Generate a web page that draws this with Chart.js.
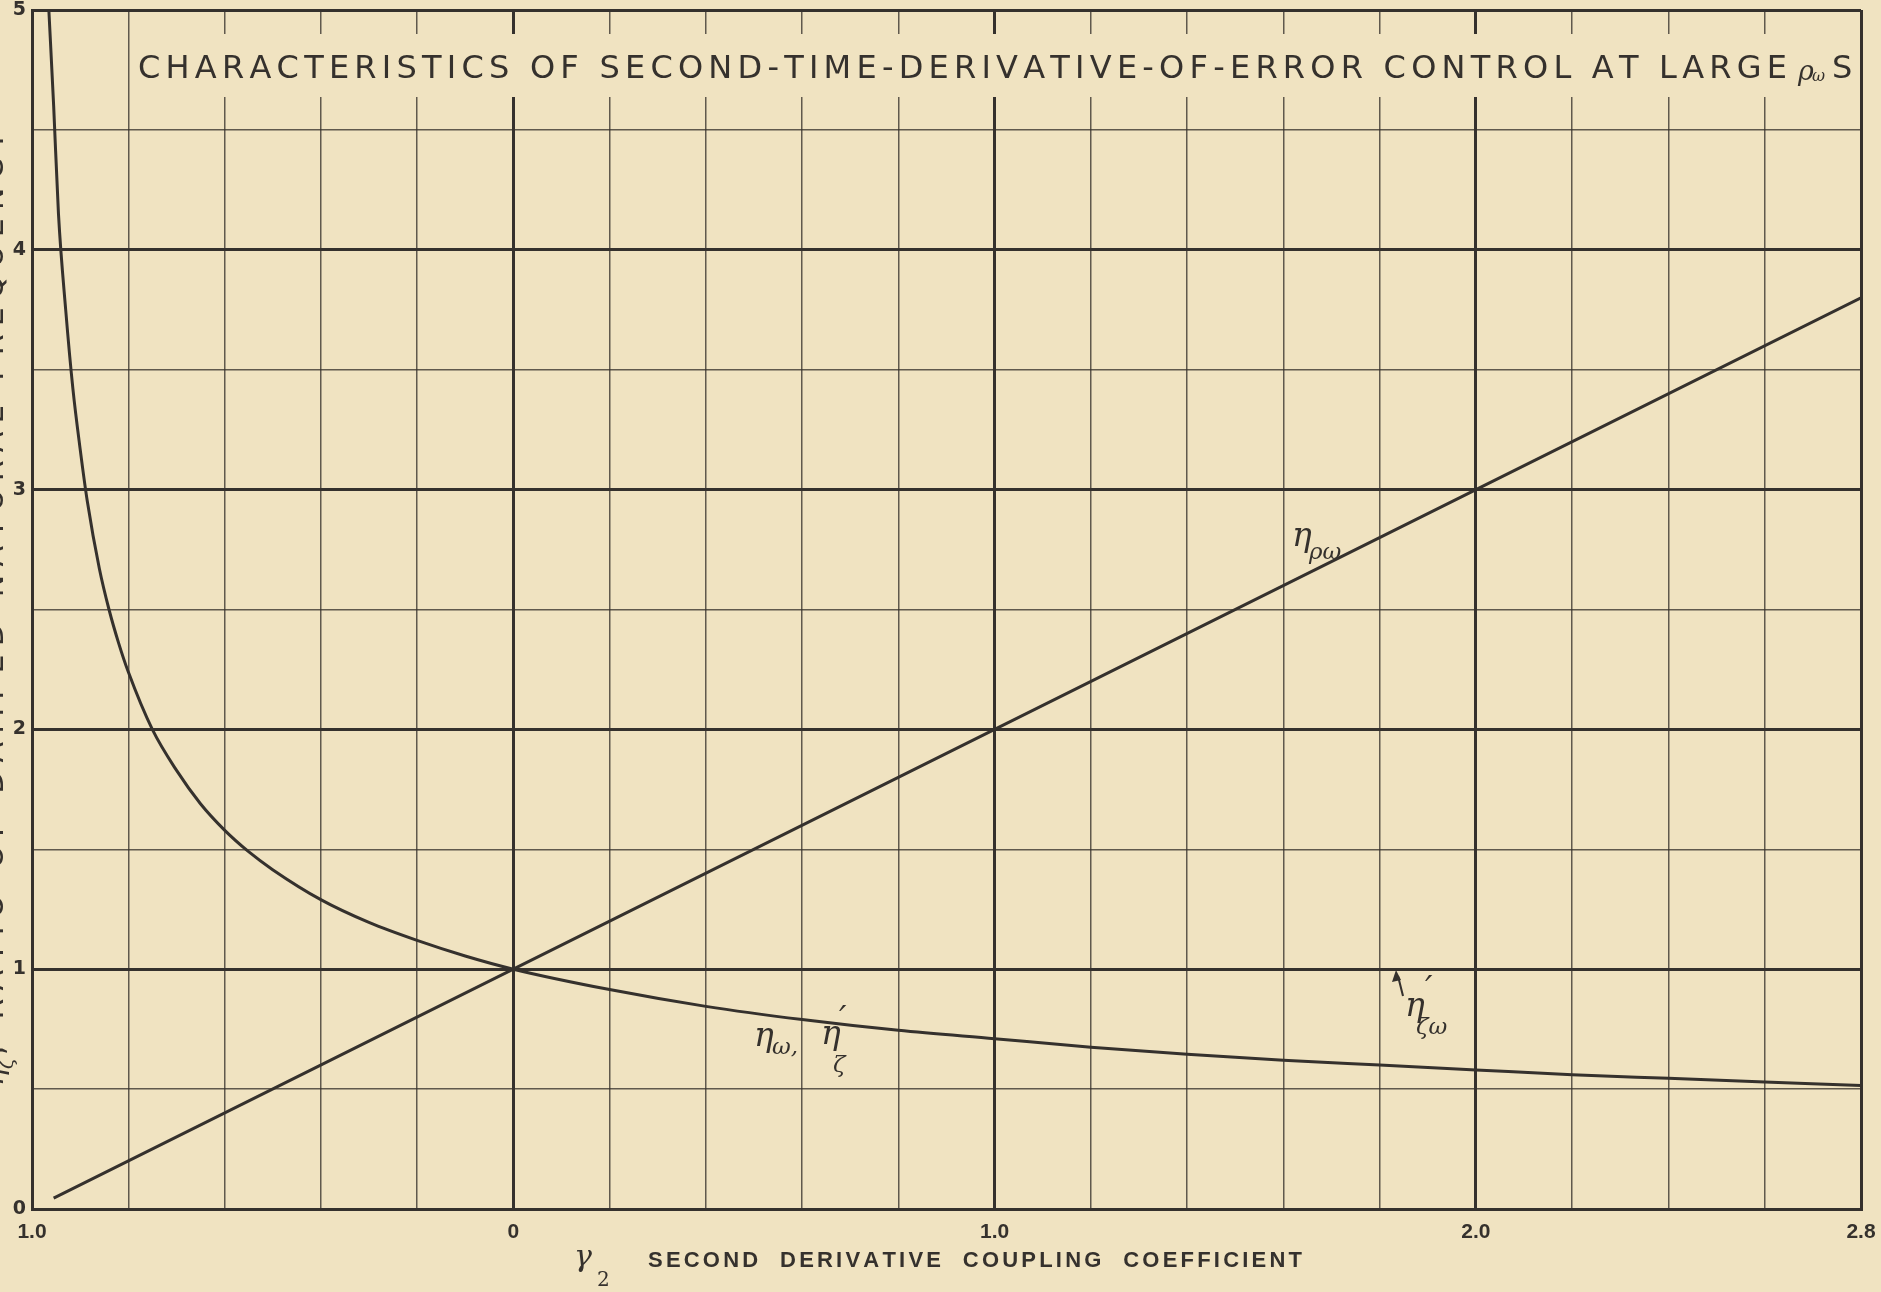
<!DOCTYPE html>
<html>
<head>
<meta charset="utf-8">
<title>Second-time-derivative-of-error control</title>
<script src="https://cdn.jsdelivr.net/npm/chart.js@4.4.1/dist/chart.umd.min.js"></script>
<style>
    html, body { margin: 0; padding: 0; background: #f0e3c1; }
    #wrap { width: 1881px; height: 1292px; position: relative; }
</style>
</head>
<body>
<div id="wrap"><canvas id="chart"></canvas></div>
<script>
// Curva eta_w, eta'_z frente a r2
const curveR = [-0.965, -0.955, -0.945, -0.93, -0.915, -0.9, -0.885, -0.86, -0.84, -0.82, -0.8,
    -0.75, -0.7, -0.65, -0.6, -0.55, -0.5, -0.4, -0.3, -0.2, -0.1,
    0, 0.2, 0.4, 0.6, 0.8, 1.0, 1.2, 1.4, 1.6, 1.8, 2.0, 2.2, 2.4, 2.6, 2.8];
const curveEta = [5.0, 4.6, 4.15, 3.75, 3.42, 3.17, 2.95, 2.67, 2.5, 2.36, 2.24,
    2.0, 1.83, 1.69, 1.58, 1.49, 1.415, 1.29, 1.195, 1.12, 1.055,
    1.0, 0.915, 0.845, 0.79, 0.745, 0.71, 0.675, 0.645, 0.62, 0.6, 0.58, 0.56, 0.545, 0.53, 0.515];

// Recta eta_pw
const lineR = [-0.955, 0, 1, 2, 2.8];
const lineEta = [0.045, 1, 2, 3, 3.8];

// Etiquetas de los ejes
const xTickValues = [-1, 0, 1, 2, 2.8];
const xTickTexts = ['1.0', '0', '1.0', '2.0', '2.8'];
const yTickValues = [0, 1, 2, 3, 4, 5];

const PAPER = '#f0e3c1';
const INK = '#35312d';
const MINOR = 'rgba(55, 50, 45, 0.78)';
const SANS = '"DejaVu Sans", "Liberation Sans", sans-serif';
const ARIAL = '"Liberation Sans", Arial, sans-serif';
const GREEK = '"DejaVu Serif", serif';

function toPoints(xs, ys) {
    return xs.map((x, i) => ({ x: x, y: ys[i] }));
}

function isMajorX(v) {
    return xTickValues.some(t => Math.abs(t - v) < 1e-6);
}

function isMajorY(v) {
    return Math.abs(v - Math.round(v)) < 1e-6;
}

// Texto con espaciado repartido para ocupar un ancho dado
function drawSpaced(ctx, text, x, y, width) {
    const chars = Array.from(text);
    const widths = chars.map(c => ctx.measureText(c).width);
    const total = widths.reduce((a, b) => a + b, 0);
    const gap = chars.length > 1 ? (width - total) / (chars.length - 1) : 0;
    let cx = x;
    ctx.textAlign = 'left';
    chars.forEach((c, i) => {
        ctx.fillText(c, cx, y);
        cx += widths[i] + gap;
    });
}

const paperPlugin = {
    id: 'paper',
    beforeDatasetsDraw(chart) {
        const ctx = chart.ctx;
        const xs = chart.scales.x;
        ctx.save();
        // hueco en la cuadricula para el titulo
        const left = xs.getPixelForValue(-0.8) + 2;
        const right = xs.getPixelForValue(2.8) - 2;
        ctx.fillStyle = PAPER;
        ctx.fillRect(left, 34, right - left, 63);

        ctx.fillStyle = INK;
        ctx.textBaseline = 'alphabetic';
        ctx.font = '32px ' + SANS;
        drawSpaced(ctx, 'CHARACTERISTICS OF SECOND-TIME-DERIVATIVE-OF-ERROR CONTROL AT LARGE', 138, 78, 1649);
        ctx.font = 'italic 27px ' + GREEK;
        ctx.fillText('\u03C1', 1798, 80);
        ctx.font = 'italic 16px ' + GREEK;
        ctx.fillText('\u03C9', 1812, 81);
        ctx.font = '32px ' + SANS;
        ctx.fillText('S', 1832, 78);
        ctx.restore();
    },
    afterDatasetsDraw(chart) {
        const ctx = chart.ctx;
        ctx.save();
        ctx.fillStyle = INK;
        ctx.strokeStyle = INK;
        ctx.textAlign = 'left';
        ctx.textBaseline = 'alphabetic';

        const big = 'italic 33px ' + GREEK;
        const small = 'italic 23px ' + GREEK;

        // eta_pw
        ctx.font = big;
        ctx.fillText('\u03B7', 1292, 546);
        ctx.font = small;
        ctx.fillText('\u03C1\u03C9', 1309, 559);

        // eta_w, eta'_z
        ctx.font = big;
        ctx.fillText('\u03B7', 754, 1046);
        ctx.font = small;
        ctx.fillText('\u03C9,', 772, 1054);
        ctx.font = big;
        ctx.fillText('\u03B7', 821, 1044);
        ctx.fillText('\u2032', 839, 1030);
        ctx.font = small;
        ctx.fillText('\u03B6', 833, 1072);

        // eta'_zw con flecha
        ctx.lineWidth = 2;
        ctx.beginPath();
        ctx.moveTo(1403, 996);
        ctx.lineTo(1398, 976);
        ctx.stroke();
        ctx.beginPath();
        ctx.moveTo(1396, 970);
        ctx.lineTo(1392, 982);
        ctx.lineTo(1401, 980);
        ctx.closePath();
        ctx.fill();
        ctx.font = big;
        ctx.fillText('\u03B7', 1405, 1016);
        ctx.fillText('\u2032', 1425, 1000);
        ctx.font = small;
        ctx.fillText('\u03B6\u03C9', 1416, 1034);

        // titulo del eje x
        ctx.font = 'italic 30px ' + GREEK;
        ctx.fillText('\u03B3', 574, 1266);
        ctx.font = '20px ' + GREEK;
        ctx.fillText('2', 597, 1286);
        ctx.font = 'bold 22px ' + ARIAL;
        drawSpaced(ctx, 'SECOND  DERIVATIVE  COUPLING  COEFFICIENT', 648, 1267, 654);

        // titulo del eje y (cortado por el borde)
        ctx.translate(3, 609);
        ctx.rotate(-Math.PI / 2);
        ctx.font = 'italic 30px ' + GREEK;
        ctx.fillText('\u03B7', -477, 0);
        ctx.font = 'italic 20px ' + GREEK;
        ctx.fillText('\u03B6', -460, 10);
        ctx.font = '30px ' + SANS;
        drawSpaced(ctx, ', RATIO OF DAMPED NATURAL FREQUENCY', -446, 0, 923);
        ctx.restore();
    }
};

new Chart(document.getElementById('chart'), {
    type: 'scatter',
    data: {
        datasets: [{
            label: 'eta_w',
            data: toPoints(curveR, curveEta),
            showLine: true,
            borderColor: INK,
            borderWidth: 3,
            pointRadius: 0,
            cubicInterpolationMode: 'monotone'
        }, {
            label: 'eta_pw',
            data: toPoints(lineR, lineEta),
            showLine: true,
            borderColor: INK,
            borderWidth: 3,
            pointRadius: 0
        }]
    },
    options: {
        responsive: true,
        maintainAspectRatio: false,
        animation: false,
        events: [],
        layout: {
            padding: { top: 10, right: 20, left: 0, bottom: 0 }
        },
        plugins: {
            legend: { display: false },
            tooltip: { enabled: false }
        },
        scales: {
            x: {
                type: 'linear',
                min: -1,
                max: 2.8,
                afterFit: scale => {
                    scale.height = 83;
                    scale.paddingLeft = 0;
                    scale.paddingRight = 0;
                },
                border: { display: true, width: 3, color: INK },
                grid: {
                    drawTicks: false,
                    color: ctx => isMajorX(ctx.tick.value) ? INK : MINOR,
                    lineWidth: ctx => isMajorX(ctx.tick.value) ? 3 : 1.5
                },
                ticks: {
                    stepSize: 0.2,
                    autoSkip: false,
                    maxRotation: 0,
                    padding: 11,
                    color: INK,
                    font: { family: ARIAL, size: 21, weight: 'bold' },
                    callback: function (value) {
                        const i = xTickValues.findIndex(t => Math.abs(t - value) < 1e-6);
                        return i >= 0 ? xTickTexts[i] : '';
                    }
                }
            },
            y: {
                type: 'linear',
                min: 0,
                max: 5,
                afterFit: scale => {
                    scale.width = 32;
                    scale.paddingTop = 0;
                    scale.paddingBottom = 0;
                },
                border: { display: true, width: 3, color: INK },
                grid: {
                    drawTicks: false,
                    color: ctx => isMajorY(ctx.tick.value) ? INK : MINOR,
                    lineWidth: ctx => isMajorY(ctx.tick.value) ? 3 : 1.5
                },
                ticks: {
                    stepSize: 0.5,
                    autoSkip: false,
                    padding: 6,
                    color: INK,
                    font: { family: SANS, size: 19, weight: 'bold' },
                    callback: function (value) {
                        return yTickValues.some(t => Math.abs(t - value) < 1e-6) ? String(value) : '';
                    }
                }
            }
        }
    },
    plugins: [paperPlugin]
});
</script>
</body>
</html>
